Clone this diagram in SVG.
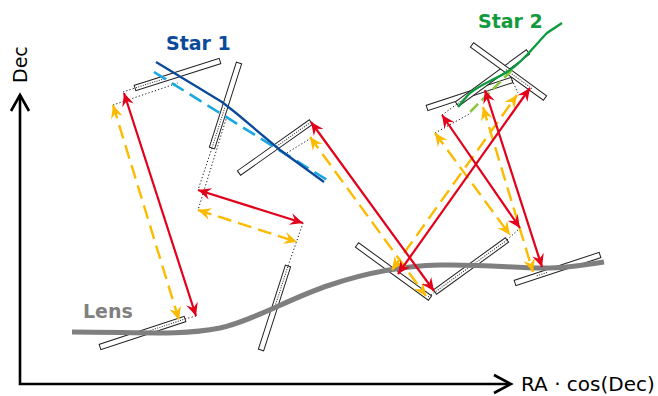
<svg xmlns="http://www.w3.org/2000/svg" width="658" height="396" viewBox="0 0 658 396">
  <style>
    text { font-family: "DejaVu Sans", "Liberation Sans", sans-serif; }
    .label { font-weight: bold; font-size: 19px; }
    .axis-label { font-size: 20px; fill: #000; }
    .slit { fill: #fff; stroke: #222; stroke-width: 1; }
    .fill-dots { stroke: #222; stroke-width: 1; stroke-dasharray: 1 1.4; fill: none; }
    .dots { stroke: #111; stroke-width: 1; stroke-dasharray: 1.2 2.2; fill: none; }
    .axis { stroke: #000; stroke-width: 2.6; fill: none; }
    .red { stroke: #e2001a; stroke-width: 2.2; fill: none; marker-start: url(#hr); marker-end: url(#hr); }
    .yel { stroke: #fbbb00; stroke-width: 2.4; fill: none; stroke-dasharray: 14 7; marker-start: url(#hy); marker-end: url(#hy); }
  </style>
  <defs>
    <marker id="hr" viewBox="-14 -7 15 14" refX="0" refY="0" markerWidth="15" markerHeight="14" markerUnits="userSpaceOnUse" orient="auto-start-reverse">
      <path d="M0,0 L-13,-6 L-8.5,0 L-13,6 Z" fill="#e2001a"/>
    </marker>
    <marker id="hy" viewBox="-14 -7 15 14" refX="0" refY="0" markerWidth="15" markerHeight="14" markerUnits="userSpaceOnUse" orient="auto-start-reverse">
      <path d="M0,0 L-13,-6 L-8.5,0 L-13,6 Z" fill="#fbbb00"/>
    </marker>
  </defs>

  <!-- axes -->
  <g id="axes">
    <polyline class="axis" points="20,95 20,384 510,384"/>
    <polyline class="axis" points="11,111 20,95 29,111"/>
    <polyline class="axis" points="494,375 511,384 494,393"/>
    <text class="axis-label" transform="translate(27,83) rotate(-90)" style="font-size:19px">Dec</text>
    <text class="axis-label" x="521" y="391">RA · cos(Dec)</text>
  </g>

  <!-- slits: drawn from one end along their axis -->
  <g id="slit1" transform="translate(135,88) rotate(-17.62)"><rect class="slit" x="0" y="-2.75" width="89.2" height="5.5"/><line class="fill-dots" x1="1" y1="0" x2="33" y2="0"/></g>
  <g id="slit2" transform="translate(239,63) rotate(107.62)"><rect class="slit" x="0" y="-2.75" width="89.2" height="5.5"/><line class="fill-dots" x1="47" y1="0" x2="88" y2="0"/></g>
  <g id="slit3" transform="translate(239,173) rotate(-35.31)"><rect class="slit" x="0" y="-2.75" width="88.2" height="5.5"/><line class="fill-dots" x1="46" y1="0" x2="87" y2="0"/></g>
  <g id="slit4" transform="translate(100,347) rotate(-18.23)"><rect class="slit" x="0" y="-2.75" width="89.5" height="5.5"/><line class="fill-dots" x1="53" y1="0" x2="88.5" y2="0"/></g>
  <g id="slit5" transform="translate(288,266) rotate(107.82)"><rect class="slit" x="0" y="-2.75" width="88.2" height="5.5"/><line class="fill-dots" x1="1" y1="0" x2="41" y2="0"/></g>
  <g id="slit6" transform="translate(357,245) rotate(35.98)"><rect class="slit" x="0" y="-2.75" width="90.2" height="5.5"/></g>
  <g id="slit7" transform="translate(435,292) rotate(-35.84)"><rect class="slit" x="0" y="-2.75" width="88.8" height="5.5"/><line class="fill-dots" x1="1" y1="0" x2="88" y2="0"/></g>
  <g id="slit8" transform="translate(515,283) rotate(-18.23)"><rect class="slit" x="0" y="-2.75" width="89.5" height="5.5"/><line class="fill-dots" x1="23" y1="0" x2="34" y2="0"/></g>
  <g id="slit9" transform="translate(427,108) rotate(-18.23)"><rect class="slit" x="0" y="-2.75" width="89.5" height="5.5"/></g>
  <g id="slit10" transform="translate(457,104) rotate(-36.22)"><rect class="slit" x="0" y="-2.75" width="88" height="5.5"/><line class="fill-dots" x1="1" y1="0" x2="9" y2="0"/></g>
  <g id="slit11" transform="translate(472,45) rotate(35.98)"><rect class="slit" x="0" y="-2.75" width="90.2" height="5.5"/><line class="fill-dots" x1="42" y1="0" x2="74" y2="0"/></g>

  <!-- dotted construction lines -->
  <g id="guides">
    <line class="dots" x1="123" y1="92" x2="135" y2="88"/>
    <line class="dots" x1="113" y1="105" x2="178" y2="83"/>
    <line class="dots" x1="212" y1="148" x2="198" y2="190"/>
    <line class="dots" x1="227" y1="116" x2="198" y2="210"/>
    <line class="dots" x1="311" y1="138" x2="287" y2="153"/>
    <line class="dots" x1="196" y1="316" x2="185" y2="319"/>
    <line class="dots" x1="303" y1="223" x2="288" y2="266"/>
    <line class="dots" x1="428" y1="297" x2="435" y2="292"/>
    <line class="dots" x1="507" y1="240" x2="520" y2="228"/>
    <line class="dots" x1="442" y1="115" x2="457" y2="104"/>
    <line class="dots" x1="435" y1="133" x2="471" y2="113"/>
    <line class="dots" x1="512" y1="80" x2="518" y2="93"/>
  </g>

  <!-- lens -->
  <g id="lens">
    <path d="M72,332 C140,332 180,336 220,328 C255,320 290,298 330,285 C365,273 400,266 440,265 C490,264 520,269 550,268 C575,267 590,264 604,262" fill="none" stroke="#7f7f7f" stroke-width="5"/>
    <text class="label" x="83" y="318" fill="#808080">Lens</text>
  </g>

  <!-- star 1 -->
  <g id="star1">
    <line x1="154" y1="72" x2="332" y2="183" stroke="#19a9e1" stroke-width="2.6" stroke-dasharray="14 7"/>
    <polyline points="156,62 222,102 236,113 280,150 324,182" fill="none" stroke="#0a4a9a" stroke-width="2.3" stroke-linejoin="round"/>
    <text class="label" x="166" y="50" fill="#0b4a9b">Star 1</text>
  </g>

  <!-- star 2 -->
  <g id="star2">
    <line x1="512" y1="70" x2="467" y2="115" stroke="#8dc63f" stroke-width="2.6" stroke-dasharray="11 5"/>
    <path d="M562,23 L547,33 C535,45 525,60 510,70 C495,80 478,85 468,95 L458,107" fill="none" stroke="#0a9a3c" stroke-width="2.3"/>
    <text class="label" x="478" y="28" fill="#149a3e">Star 2</text>
  </g>

  <!-- image pairs -->
  <g id="connectors">
    <line class="yel" x1="113" y1="105" x2="179" y2="320"/>
    <line class="yel" x1="198" y1="210" x2="297" y2="242"/>
    <line class="yel" x1="310" y1="137" x2="426" y2="296"/>
    <line class="yel" x1="392" y1="270" x2="517" y2="95"/>
    <line class="yel" x1="435" y1="133" x2="510" y2="235"/>
    <line class="yel" x1="483" y1="107" x2="533" y2="272"/>
    <line class="red" x1="124" y1="93" x2="196" y2="316"/>
    <line class="red" x1="198" y1="190" x2="303" y2="223"/>
    <line class="red" x1="311" y1="122" x2="434" y2="291"/>
    <line class="red" x1="398" y1="274" x2="530" y2="88"/>
    <line class="red" x1="442" y1="115" x2="520" y2="228"/>
    <line class="red" x1="485" y1="90" x2="542" y2="267"/>
  </g>
</svg>
